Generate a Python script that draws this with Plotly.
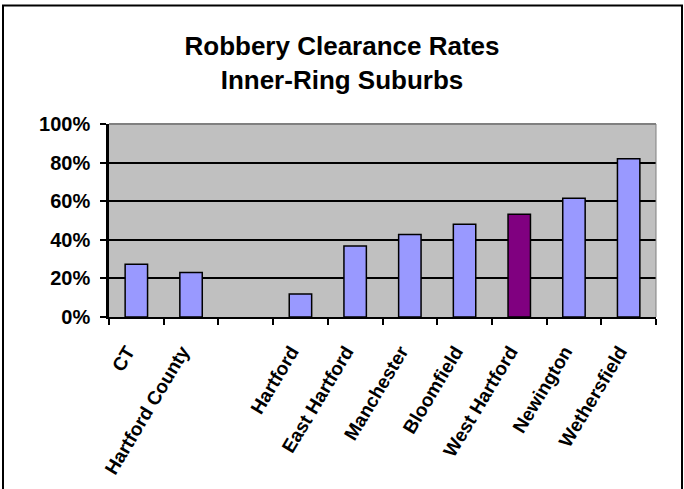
import plotly.graph_objects as go

categories = ["CT", "Hartford County", " ", "Hartford", "East Hartford", "Manchester",
              "Bloomfield", "West Hartford", "Newington", "Wethersfield"]
clearance = [0.273, 0.23, None, 0.119, 0.368, 0.428, 0.48, 0.532, 0.615, 0.82]
highlight = "West Hartford"
base_color = "#9999FF"
hi_color = "#800080"
colors = [hi_color if c == highlight else base_color for c in categories]

W, H = 684, 489
L, R, T, B = 109, 28, 124, 172
pw, ph = W - L - R, H - T - B

fig = go.Figure(go.Bar(
    x=categories, y=clearance,
    marker=dict(color=colors, line=dict(color="black", width=1.5)),
    width=0.41,
))

font_family = "Liberation Sans, Arial, sans-serif"

def px_x(p):
    return (p - L) / pw

def px_y(p):
    return (H - B - p) / ph

fig.update_layout(
    width=W, height=H,
    margin=dict(l=L, r=R, t=T, b=B, pad=0),
    paper_bgcolor="white",
    plot_bgcolor="#C0C0C0",
    showlegend=False,
    font=dict(family=font_family, color="black"),
    title=dict(
        text="<b>Robbery Clearance Rates<br>Inner-Ring Suburbs</b>",
        x=0.5, xref="container", xanchor="center",
        y=1 - 55 / H, yref="container", yanchor="top",
        font=dict(size=26, family=font_family, color="black"),
    ),
    xaxis=dict(
        type="category",
        tickson="boundaries",
        ticks="outside", ticklen=6, tickwidth=2, tickcolor="black",
        showline=True, linecolor="black", linewidth=2,
        showgrid=False,
        tickangle=-59,
        tickfont=dict(size=19, family=font_family, color="black"),
        tickprefix="<b>", ticksuffix="</b>",
        ticklabelstandoff=14,
        ticklabelshift=-9,
    ),
    yaxis=dict(
        range=[0, 1], dtick=0.2, tickformat=".0%",
        ticks="outside", ticklen=6, tickwidth=2, tickcolor="black",
        showline=True, linecolor="black", linewidth=2.5,
        showgrid=True, gridcolor="black", gridwidth=1.5,
        zeroline=False,
        tickfont=dict(size=20, family=font_family, color="black"),
        tickprefix="<b>", ticksuffix="</b>",
        ticklabelstandoff=6,
    ),
    shapes=[
        # plot area border (top and right, gray)
        dict(type="line", xref="paper", yref="paper", x0=0, x1=1, y0=1, y1=1,
             line=dict(color="#808080", width=2)),
        dict(type="line", xref="paper", yref="paper", x0=1, x1=1, y0=0, y1=1,
             line=dict(color="#808080", width=1)),
        # outer chart border
        dict(type="rect", xref="paper", yref="paper",
             x0=px_x(3), x1=px_x(682), y0=px_y(495), y1=px_y(5.5),
             line=dict(color="black", width=2), fillcolor="rgba(0,0,0,0)", layer="below"),
    ],
)

fig.write_html("out.html", config={"displayModeBar": False},
               post_script="document.body.style.margin='0';")
